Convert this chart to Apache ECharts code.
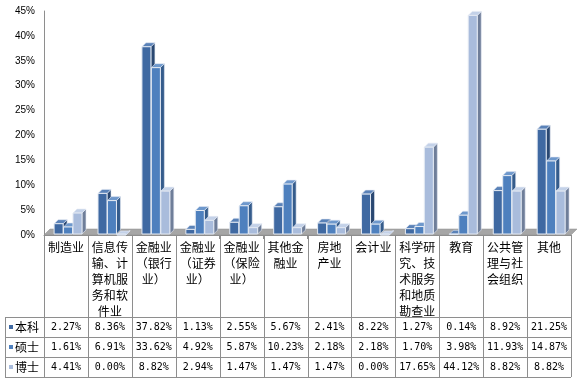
<!DOCTYPE html>
<html><head><meta charset="utf-8">
<script src="https://cdn.jsdelivr.net/npm/echarts@6/dist/echarts.min.js"></script>
<style>html,body{margin:0;padding:0;background:#fff}#c{width:579px;height:382px}</style>
</head><body><div id="c"></div>
<script>
const categories = ['制造业','信息传\n输、计\n算机服\n务和软\n件业','金融业\n（银行\n业）','金融业\n（证券\n业）','金融业\n（保险\n业）','其他金\n融业','房地\n产业','会计业','科学研\n究、技\n术服务\n和地质\n勘查业','教育','公共管\n理与社\n会组织','其他'];
const seriesNames = ['本科','硕士','博士'];
const bachelor = [2.27, 8.36, 37.82, 1.13, 2.55, 5.67, 2.41, 8.22, 1.27, 0.14, 8.92, 21.25];
const master   = [1.61, 6.91, 33.62, 4.92, 5.87, 10.23, 2.18, 2.18, 1.70, 3.98, 11.93, 14.87];
const doctor   = [4.41, 0.00, 8.82, 2.94, 1.47, 1.47, 1.47, 0.00, 17.65, 44.12, 8.82, 8.82];
const yTicks = [0,5,10,15,20,25,30,35,40,45];

const values = [bachelor, master, doctor];
const front = ['#3F69A2', '#4E80BE', '#A9BCDC'];
const side  = ['#2A4872', '#355C8C', '#6F7E99'];
const topc  = ['#5A82B8', '#6E98CC', '#C3D1E8'];
const edge = '#E4EAF3';
const DX = 4, DY = 4;

const G = {left:44, right:8, top:11, bottom:147};
const chart = echarts.init(document.getElementById('c'));

function barSeries(s) {
  return {
    type:'custom', name: seriesNames[s], z: 3 + s,
    data: values[s].map((v,i)=>[i,v]),
    encode:{x:0,y:1},
    clip:false,
    renderItem: function(params, api){
      const i = api.value(0), v = api.value(1);
      const base = api.coord([i,0]);
      const top = api.coord([i,v]);
      const bw = api.size([1,0])[0];
      const left = base[0] - bw/2;
      const w = bw*0.205;
      const x0 = left + bw*0.23 + s*bw*0.215;
      const yb = base[1]-1, yt = top[1];
      return {type:'group', children:[
        {type:'polygon', shape:{points:[[x0+w,yt],[x0+w+DX,yt-DY],[x0+w+DX,yb-DY],[x0+w,yb]]},
          style:{fill:side[s], stroke:edge, lineWidth:0.6}},
        {type:'polygon', shape:{points:[[x0,yt],[x0+DX,yt-DY],[x0+w+DX,yt-DY],[x0+w,yt]]},
          style:{fill:topc[s], stroke:edge, lineWidth:0.6}},
        {type:'rect', shape:{x:x0, y:yt, width:w, height:yb-yt},
          style:{fill:front[s], stroke:edge, lineWidth:1}}
      ]};
    }
  };
}

const floorSeries = {
  type:'custom', z:1, data:[[0,0]], encode:{x:0,y:1}, clip:false, silent:true,
  renderItem: function(params, api){
    const cs = params.coordSys;
    const yb = cs.y + cs.height;
    return {type:'polygon', shape:{points:[[cs.x,yb],[cs.x+cs.width,yb],[cs.x+cs.width+6,yb-6],[cs.x+6,yb-6]]},
      style:{fill:'#A6A6A6', stroke:'#8C8C8C', lineWidth:0.5}};
  }
};

function valueAxis(row, offset) {
  return {
    type:'category', data:categories, position:'bottom', offset:offset,
    axisLine:{show:false}, axisTick:{show:false}, splitLine:{show:false},
    axisLabel:{interval:0, margin:0, verticalAlign:'middle', fontSize:10,
      fontFamily:'DejaVu Sans Mono', color:'#000',
      formatter:(v,idx)=>values[row][idx].toFixed(2)+'%'}
  };
}

const gl = [];
const tLeft = 5, tRight = 571, gx = G.left, gw = 579 - G.left - G.right;
const rowY = [317, 337, 357, 377];
const lineStyle = {stroke:'#8E8E8E', lineWidth:1};
for (let i=0;i<=categories.length;i++){
  const x = Math.round(gx + i*gw/categories.length)+0.5;
  gl.push({type:'line', shape:{x1:x,y1:236,x2:x,y2:377}, style:lineStyle});
}
rowY.forEach(y=>gl.push({type:'line', shape:{x1:tLeft,y1:y+0.5,x2:tRight,y2:y+0.5}, style:lineStyle}));
gl.push({type:'line', shape:{x1:tLeft+0.5,y1:317,x2:tLeft+0.5,y2:377}, style:lineStyle});
seriesNames.forEach((n,k)=>{
  const cy = rowY[k]+10;
  gl.push({type:'rect', shape:{x:9,y:cy-2,width:4,height:4}, style:{fill:front[k]}});
  gl.push({type:'text', x:15, y:cy, style:{text:n, fontSize:12, fontFamily:'Noto Sans CJK SC', fill:'#000', verticalAlign:'middle', align:'left'}});
});

chart.setOption({
  animation:false,
  grid:G,
  xAxis:[
    {type:'category', data:categories, position:'bottom',
      axisLine:{show:true, lineStyle:{color:'#8E8E8E'}}, axisTick:{show:true, length:4, lineStyle:{color:'#8E8E8E'}},
      axisLabel:{interval:0, margin:4, fontSize:12, lineHeight:16, fontFamily:'Noto Sans CJK SC', color:'#000', align:'center', verticalAlign:'top'}},
    valueAxis(0, 92), valueAxis(1, 112), valueAxis(2, 132)
  ],
  yAxis:{type:'value', min:0, max:45, interval:5,
    axisLine:{show:true, lineStyle:{color:'#8E8E8E'}}, axisTick:{show:false}, splitLine:{show:false},
    axisLabel:{margin:9, fontSize:10, fontFamily:'Liberation Sans', color:'#000',
      formatter:v=> yTicks.includes(v) ? v+'%' : ''}},
  graphic:gl,
  series:[floorSeries, barSeries(0), barSeries(1), barSeries(2)]
});
</script></body></html>
